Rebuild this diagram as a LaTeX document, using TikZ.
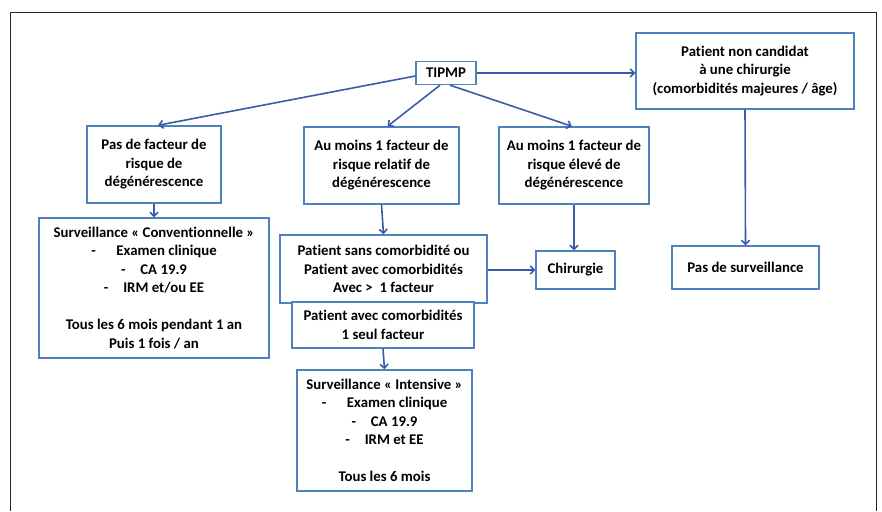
\documentclass[tikz,border=0pt]{standalone}
\usepackage{fontspec}
\setmainfont{Carlito}[Ligatures=NoCommon]
\usetikzlibrary{arrows.meta}
\definecolor{boxblue}{RGB}{79,129,189}
\definecolor{arrowblue}{RGB}{58,92,168}
\begin{document}
\begin{tikzpicture}[x=1pt,y=-1pt,
    every node/.append style={font=\bfseries\fontsize{14.8}{18.5}\selectfont,align=center,inner sep=2pt},
    box/.style={draw=boxblue,line width=1.4pt,rectangle,fill=white},
    link/.style={-{Straight Barb[length=4pt,width=8pt]},arrowblue,line width=1.6pt}]
  \useasboundingbox (0,0) rectangle (882,511);
  \draw [line width=0.9pt,black!85] (10,511)--(10,12)--(876,12)--(876,511);

  \node[box,minimum width=60pt,minimum height=23pt] (TIPMP) at (446,73) {TIPMP};
  \node[box,minimum width=218pt,minimum height=76pt] (NonCandidat) at (745,71)
    {Patient non candidat\\à une chirurgie\\(comorbidités majeures / âge)};

  \node[box,minimum width=134pt,minimum height=77pt] (PasFacteur) at (154,164.5)
    {Pas de facteur de\\risque de\\dégénérescence};
  \node[box,minimum width=155pt,minimum height=77pt] (Relatif) at (381.5,165.5)
    {Au moins 1 facteur de\\risque relatif de\\dégénérescence};
  \node[box,minimum width=150pt,minimum height=77pt] (Eleve) at (574,165.5)
    {Au moins 1 facteur de\\risque élevé de\\dégénérescence};

  \node[box,minimum width=230pt,minimum height=140pt] (Conventionnelle) at (154,288)
    {Surveillance « Conventionnelle »\\-\hspace{1.4em}Examen clinique\\-\hspace{1em}CA 19.9\\-\hspace{1em}IRM et/ou EE\\[18.5pt]Tous les 6 mois pendant 1 an\\Puis 1 fois / an};
  \node[box,minimum width=207pt,minimum height=68pt] (SansComorb) at (383.5,269)
    {Patient sans comorbidité ou\\Patient avec comorbidités\\Avec >\ \ 1 facteur};
  \node[box,minimum width=182pt,minimum height=46pt] (SeulFacteur) at (383,325)
    {Patient avec comorbidités\\1 seul facteur};
  \node[box,minimum width=79pt,minimum height=38pt] (Chirurgie) at (575.5,270) {Chirurgie};
  \node[box,minimum width=147pt,minimum height=43pt] (PasSurv) at (745.5,267.5) {Pas de surveillance};

  \node[box,minimum width=175pt,minimum height=121pt] (Intensive) at (384.5,430.5)
    {Surveillance « Intensive »\\-\hspace{1.4em}Examen clinique\\-\hspace{1em}CA 19.9\\-\hspace{1em}IRM et EE\\[18.5pt]Tous les 6 mois};

  \draw [link] (TIPMP.east)--(NonCandidat.west |- TIPMP.east);
  \draw [link] ([yshift=-3pt]TIPMP.west)--([xshift=4pt]PasFacteur.north);
  \draw [link] ([xshift=-6pt]TIPMP.south)--([xshift=6pt]Relatif.north);
  \draw [link] ([xshift=4pt]TIPMP.south)--([xshift=-2pt]Eleve.north);

  \draw [link] (PasFacteur.south)--(Conventionnelle.north);
  \draw [link] (Relatif.south)--(SansComorb.north);
  \draw [link] (Eleve.south)--(Eleve.south |- Chirurgie.north);
  \draw [link] (SansComorb.east |- Chirurgie.west)--(Chirurgie.west);
  \draw [link] (NonCandidat.south)--(PasSurv.north);
  \draw [link] (SeulFacteur.south)--(Intensive.north);
\end{tikzpicture}
\end{document}
